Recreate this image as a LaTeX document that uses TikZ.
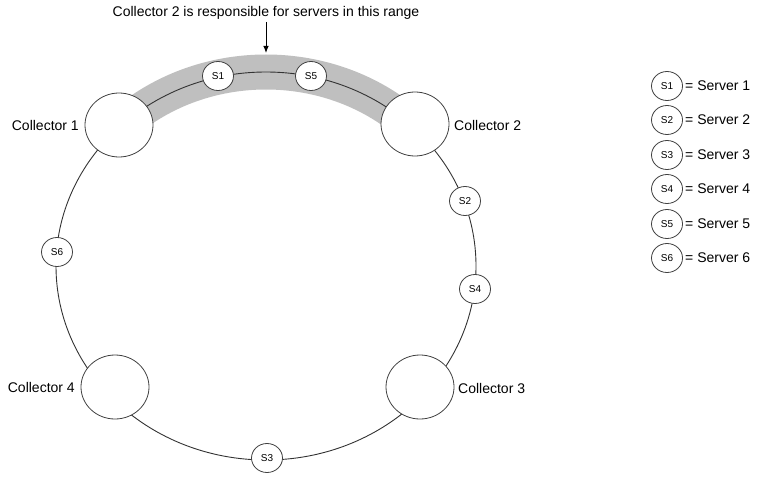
\documentclass[tikz,border=0pt]{standalone}
\usepackage{fontspec}
\setmainfont{Liberation Sans}
\usetikzlibrary{arrows.meta,shapes.geometric}
\begin{document}
\begin{tikzpicture}[x=1pt,y=-1pt,
  ringline/.style={draw=black!80, line width=0.9pt},
  band/.style={draw=gray!50, line width=35pt},
  coll/.style={ellipse, draw=black!75, line width=0.8pt, fill=white, minimum width=68pt, minimum height=64pt, inner sep=0pt},
  srv/.style={ellipse, draw=black!75, line width=0.8pt, fill=white, minimum width=31pt, minimum height=29pt, inner sep=0pt, font=\fontsize{10}{12}\selectfont},
  lbl/.style={font=\fontsize{14}{17}\selectfont, inner sep=0pt},
  pointer/.style={draw=black, line width=0.9pt, -{Latex[length=7pt,width=5.5pt]}}
]
\useasboundingbox (0,0) rectangle (759,484);
% responsibility band
\draw[band] (266,266) ++(225:210 and 194) arc[start angle=225, end angle=315, x radius=210, y radius=194];
% ring
\draw[ringline] (266,266) ellipse [x radius=210, y radius=194];
% collectors
\node[coll] (c1) at (119,125) {};
\node[coll] (c2) at (415,124) {};
\node[coll] (c3) at (420,387) {};
\node[coll] (c4) at (115,387) {};
\node[lbl, anchor=east] (c1l) at (79,125) {Collector 1};
\node[lbl, anchor=west] (c2l) at (454,125) {Collector 2};
\node[lbl, anchor=west] (c3l) at (458,388) {Collector 3};
\node[lbl, anchor=east] (c4l) at (75,387) {Collector 4};
% servers on the ring
\node[srv] (s1) at (218,76) {S1};
\node[srv] (s5) at (311,76) {S5};
\node[srv] (s2) at (465,201) {S2};
\node[srv] (s4) at (475,289) {S4};
\node[srv] (s3) at (267,458) {S3};
\node[srv] (s6) at (57,252) {S6};
% title and pointer
\node[lbl] (title) at (266,13) {Collector 2 is responsible for servers in this range};
\coordinate (tip) at (266,53);
\draw[pointer] (266,22) -- (tip);
% legend
\foreach \i/\yy in {1/86,2/120,3/155,4/189,5/224,6/258}{
  \node[srv] (l\i) at (667,\yy) {S\i};
  \node[lbl, anchor=west] (t\i) at (685,\yy) {= Server \i};
}
\end{tikzpicture}
\end{document}
